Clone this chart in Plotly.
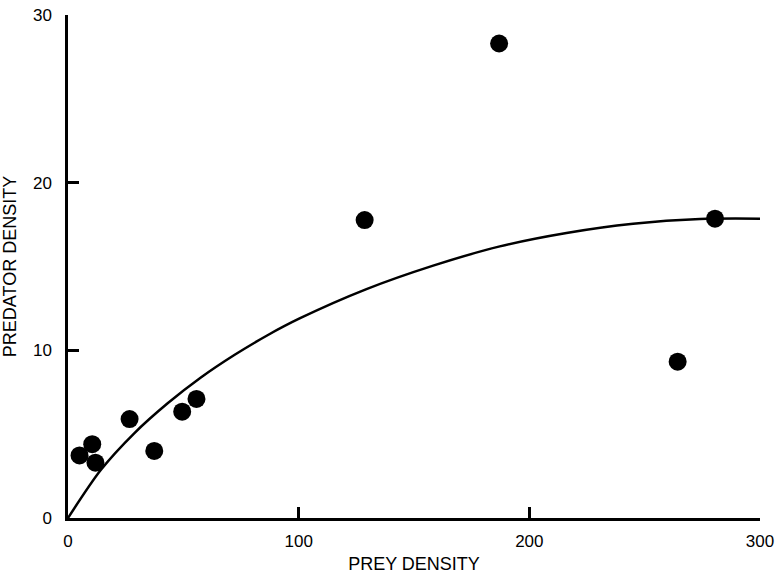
import plotly.graph_objects as go

# Observed predator vs prey densities
prey_density = [5.0, 10.5, 11.9, 26.7, 37.4, 49.5, 55.7, 128.6, 186.9, 264.3, 280.5]
predator_density = [3.73, 4.4, 3.3, 5.9, 4.0, 6.34, 7.1, 17.77, 28.3, 9.32, 17.85]

# Fitted response curve, sampled along the prey axis
fit_x = [0, 14.2, 28.7, 43.2, 57.6, 72.1, 86.5, 100.4, 129.4, 158.3, 187.2, 216.1, 245.0, 274.0, 300]
fit_y = [0, 2.86, 5.05, 6.84, 8.38, 9.72, 10.90, 11.90, 13.65, 15.05, 16.20, 17.00, 17.55, 17.83, 17.85]

x_ticks = [0, 100, 200, 300]
y_ticks = [0, 10, 20, 30]

font_family = "Liberation Sans, Arial, Helvetica, sans-serif"

fig = go.Figure()
fig.add_trace(go.Scatter(
    x=fit_x, y=fit_y, mode="lines",
    line=dict(color="black", width=2.5, shape="spline", smoothing=0.8),
    hoverinfo="skip", showlegend=False,
))
fig.add_trace(go.Scatter(
    x=prey_density, y=predator_density, mode="markers",
    marker=dict(color="black", size=18, line=dict(width=0)),
    showlegend=False,
))

axis_common = dict(
    showgrid=False, zeroline=False, showline=True, automargin=False,
    linecolor="black", linewidth=2.5,
    ticks="inside", ticklen=11, tickwidth=2.5, tickcolor="black",
    tickfont=dict(family=font_family, size=17, color="black"),
)

fig.update_layout(
    width=776, height=574,
    margin=dict(l=68, r=16, t=15, b=56, autoexpand=False),
    paper_bgcolor="white", plot_bgcolor="white",
    font=dict(family=font_family, color="black"),
    xaxis=dict(
        range=[0, 300], tickvals=x_ticks, ticktext=[str(v) for v in x_ticks],
        ticklabelstandoff=6,
        title=dict(text="PREY DENSITY", font=dict(family=font_family, size=18), standoff=8),
        **axis_common,
    ),
    yaxis=dict(
        range=[0, 30], tickvals=y_ticks, ticktext=[str(v) for v in y_ticks],
        ticklabelstandoff=10,
        title=dict(text="PREDATOR DENSITY", font=dict(family=font_family, size=18), standoff=20),
        **axis_common,
    ),
)

fig.write_html("out.html")
